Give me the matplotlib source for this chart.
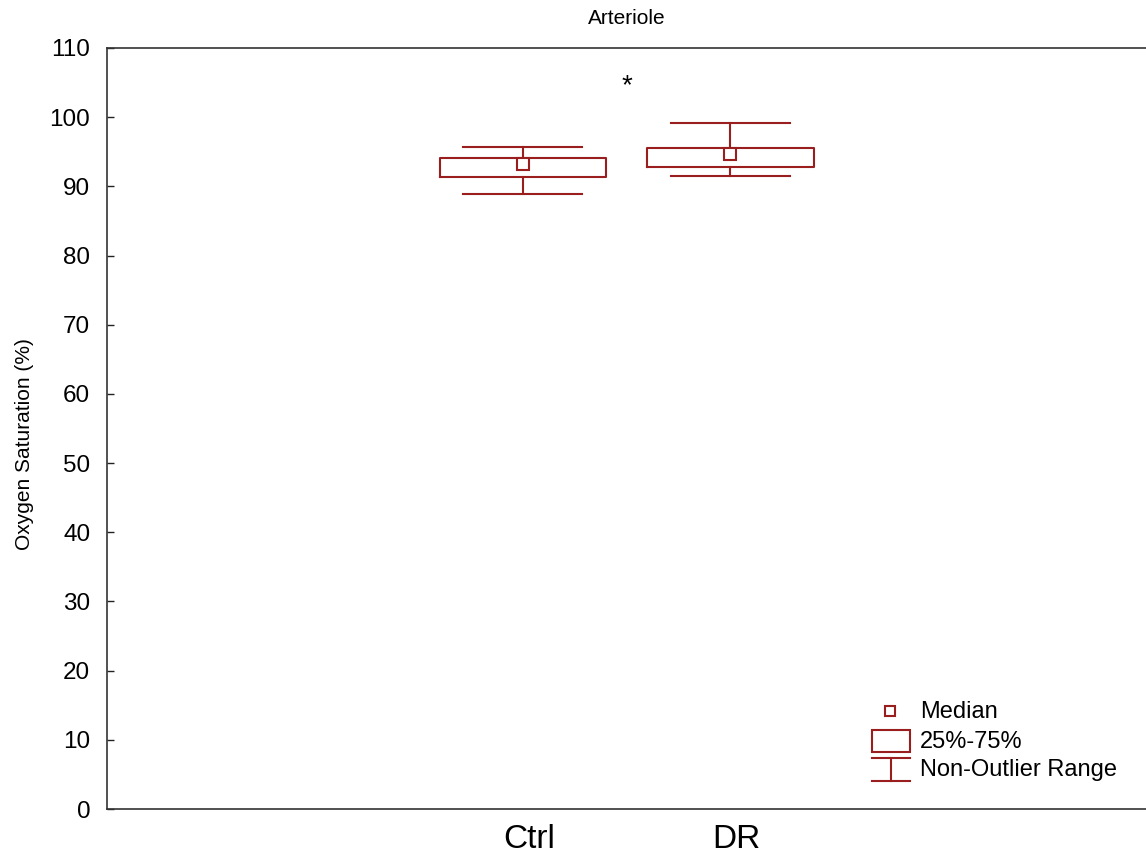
import matplotlib
matplotlib.use("Agg")
import matplotlib.pyplot as plt
from matplotlib import font_manager
from matplotlib.patches import Rectangle

# values
groups = ["Ctrl", "DR"]
medians = [93.2, 94.7]
q1 = [91.4, 92.8]
q3 = [94.1, 95.5]
whisk_lo = [88.9, 91.5]
whisk_hi = [95.7, 99.2]
positions = [1, 2]
star_pos = (1.5, 104.5)

RED = "#9a1e1e"

names = {f.name for f in font_manager.fontManager.ttflist}
narrow = "Liberation Sans Narrow" if "Liberation Sans Narrow" in names else "Liberation Sans"
plt.rcParams["font.family"] = ["Liberation Sans", "DejaVu Sans"]

fig = plt.figure(figsize=(11.46, 8.6), dpi=100)
ax = fig.add_axes([0.0934, 0.0593, 0.9066, 0.8849])

stats = []
for i, g in enumerate(groups):
    stats.append({"label": g, "med": medians[i], "q1": q1[i], "q3": q3[i],
                  "whislo": whisk_lo[i], "whishi": whisk_hi[i], "fliers": []})

lp = dict(color=RED, linewidth=1.5)
ax.bxp(stats, positions=positions, widths=0.8, capwidths=0.57,
       showfliers=False, boxprops=lp, whiskerprops=lp, capprops=lp,
       medianprops=dict(linestyle="none"), manage_ticks=False)
ax.plot(positions, medians, linestyle="none", marker="s", markersize=8.5,
        markerfacecolor="white", markeredgecolor=RED, markeredgewidth=1.5, zorder=5)

ax.text(star_pos[0], star_pos[1], "*", ha="center", va="center", fontsize=20)

ax.set_xlim(-1, 4)
ax.set_ylim(0, 110)
ax.set_yticks(range(0, 111, 10))
ax.tick_params(axis="y", labelsize=17.5, direction="in", length=5, width=1,
               colors="#222222", pad=12)
for lbl in ax.get_yticklabels():
    lbl.set_color("black")
ax.set_xticks([p + 0.03 for p in positions])
ax.set_xticklabels(groups, fontsize=24, family=narrow)
ax.tick_params(axis="x", length=0, pad=11)

ax.spines["right"].set_visible(False)
for s in ["left", "top", "bottom"]:
    ax.spines[s].set_color("#333333")
    ax.spines[s].set_linewidth(1.2)

ax.set_ylabel("Oxygen Saturation (%)", fontsize=15)
ax.yaxis.set_label_coords(-0.07, 0.479)
ax.set_title("Arteriole", fontsize=15, pad=17)

# legend drawn by hand in the lower right corner
tr = fig.transFigure
W, H = 1146.0, 860.0
def fx(px):
    return px / W
def fy(py):
    return 1 - py / H

fig.add_artist(Rectangle((fx(885), fy(716)), fx(10), 10 / H, transform=tr,
                         facecolor="white", edgecolor=RED, linewidth=1.5))
fig.add_artist(Rectangle((fx(872), fy(752)), fx(38), 22 / H, transform=tr,
                         facecolor="white", edgecolor=RED, linewidth=1.5))
for seg in [((872, 910), (758, 758)), ((891, 891), (758, 781)), ((872, 910), (781, 781))]:
    fig.add_artist(plt.Line2D([fx(v) for v in seg[0]], [fy(v) for v in seg[1]],
                              transform=tr, color=RED, linewidth=1.5))
for txt, py in [("Median", 712), ("25%-75%", 742), ("Non-Outlier Range", 770)]:
    fig.text(fx(920), fy(py), txt, fontsize=17, va="center", ha="left")

fig.savefig("out.png", dpi=100)
